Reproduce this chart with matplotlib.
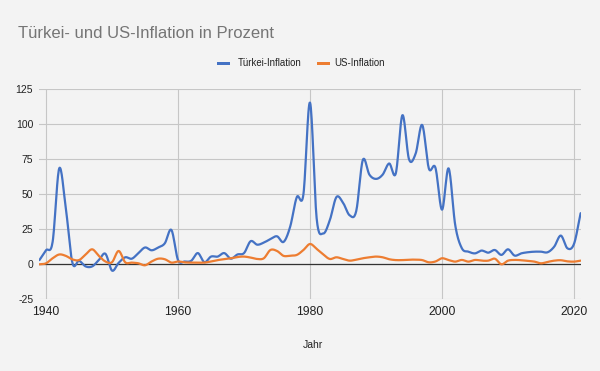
import matplotlib
matplotlib.use("Agg")
import matplotlib.pyplot as plt
import numpy as np
from matplotlib.patches import Rectangle

plt.rcParams['font.family'] = ['Liberation Sans', 'DejaVu Sans']
plt.rcParams['axes.unicode_minus'] = False

years = list(range(1939, 2022))

turkey = [3, 10, 16, 68.5, 40, 1, 2.5, -1.5, -1.5, 3,
          7.5, -4.5, 1, 5, 4, 8, 12, 10, 12, 15,
          24.5, 3, 2, 2.5, 8, 1.5, 5.5, 5.5, 8, 4,
          7, 8, 16.5, 14, 15.5, 18, 20, 16, 27, 48,
          50, 115.5, 33, 22, 31.5, 48, 44, 35, 38, 74.5,
          64, 61, 64, 72, 65, 106.5, 75, 79, 99.5, 68.5,
          69, 39, 68.5, 28, 11.5, 9, 7.8, 9.8, 8.3, 10.2,
          6.7, 10.7, 6.2, 7.8, 8.6, 9, 9, 8.6, 12.6, 20.5,
          11.4, 14.6, 36.5]

usa = [0, 0.7, 4.3, 7, 6, 3.5, 3, 7, 10.7, 6,
       2, 1.5, 9.5, 1.4, 1.2, 0.7, -0.7, 2, 4, 3.6,
       1.2, 2, 1.4, 1.2, 1.2, 1.2, 2, 3, 3.6, 4.3,
       5.2, 5.5, 4.8, 3.8, 4.3, 10.2, 9.5, 6, 6.2, 6.7,
       10.2, 14.5, 11, 7, 3.8, 5, 3.8, 2.6, 3.3, 4.3,
       5, 5.5, 5, 3.6, 3, 3, 3.3, 3.3, 3, 1.4,
       2, 4.3, 3, 1.9, 3.1, 1.9, 3.1, 2.6, 2.6, 4,
       0, 2.6, 3.1, 2.9, 2.4, 1.9, 0.7, 1.7, 2.6, 2.9,
       2.1, 1.9, 2.6]

series_names = ['Türkei-Inflation', 'US-Inflation']
colors = ['#4472c4', '#ed7d31']
bg = '#f3f3f3'


def smooth(x, y, n=16):
    # catmull-rom spline through all points
    x = np.asarray(x, float)
    y = np.asarray(y, float)
    px = np.concatenate([[2*x[0]-x[1]], x, [2*x[-1]-x[-2]]])
    py = np.concatenate([[2*y[0]-y[1]], y, [2*y[-1]-y[-2]]])
    xs, ys = [], []
    t = np.linspace(0, 1, n, endpoint=False)
    for i in range(1, len(px)-2):
        for arr, out in ((px, xs), (py, ys)):
            p0, p1, p2, p3 = arr[i-1], arr[i], arr[i+1], arr[i+2]
            out.extend(0.5*((2*p1) + (-p0+p2)*t + (2*p0-5*p1+4*p2-p3)*t**2
                            + (-p0+3*p1-3*p2+p3)*t**3))
    xs.append(x[-1])
    ys.append(y[-1])
    return np.array(xs), np.array(ys)


fig = plt.figure(figsize=(6, 3.71), dpi=100, facecolor=bg)
ax = fig.add_axes([0.0657, 0.1933, 0.902, 0.566])
ax.set_facecolor(bg)

for vals, c in zip([turkey, usa], colors):
    sx, sy = smooth(years, vals)
    ax.plot(sx, sy, color=c, lw=1.6, solid_capstyle='round', zorder=3)

ax.set_xlim(1939, 2021)
ax.set_ylim(-25, 125)
ax.set_xticks([1940, 1960, 1980, 2000, 2020])
ax.set_yticks([-25, 0, 25, 50, 75, 100, 125])
ax.grid(True, color='#c6c6c6', lw=0.8, zorder=0)
ax.axhline(0, color='#333333', lw=0.9, zorder=2)
for s in ax.spines.values():
    s.set_visible(False)
ax.tick_params(axis='both', length=0, colors='#222222')
ax.tick_params(axis='y', labelsize=7.5, pad=4.5)
ax.tick_params(axis='x', labelsize=8.7, pad=5)

fig.text(18.5/600, 1-37.7/371, 'Türkei- und US-Inflation in Prozent',
         fontsize=12, color='#757575', va='baseline', ha='left')
fig.text(312.5/600, 1-344.5/371, 'Jahr', fontsize=7.5, color='#222222',
         ha='center', va='center')

# legend, drawn by hand
sw = [(217, 238), (317, 334)]
for (sx0, tx), c, name in zip(sw, colors, series_names):
    fig.add_artist(Rectangle((sx0/600, 1-64.7/371), 13/600, 2.7/371,
                             transform=fig.transFigure, color=c, lw=0))
    fig.text(tx/600, 1-63.3/371, name, fontsize=6.9, color='#222222',
             ha='left', va='center')

fig.savefig('out.png', dpi=100, facecolor=bg)
